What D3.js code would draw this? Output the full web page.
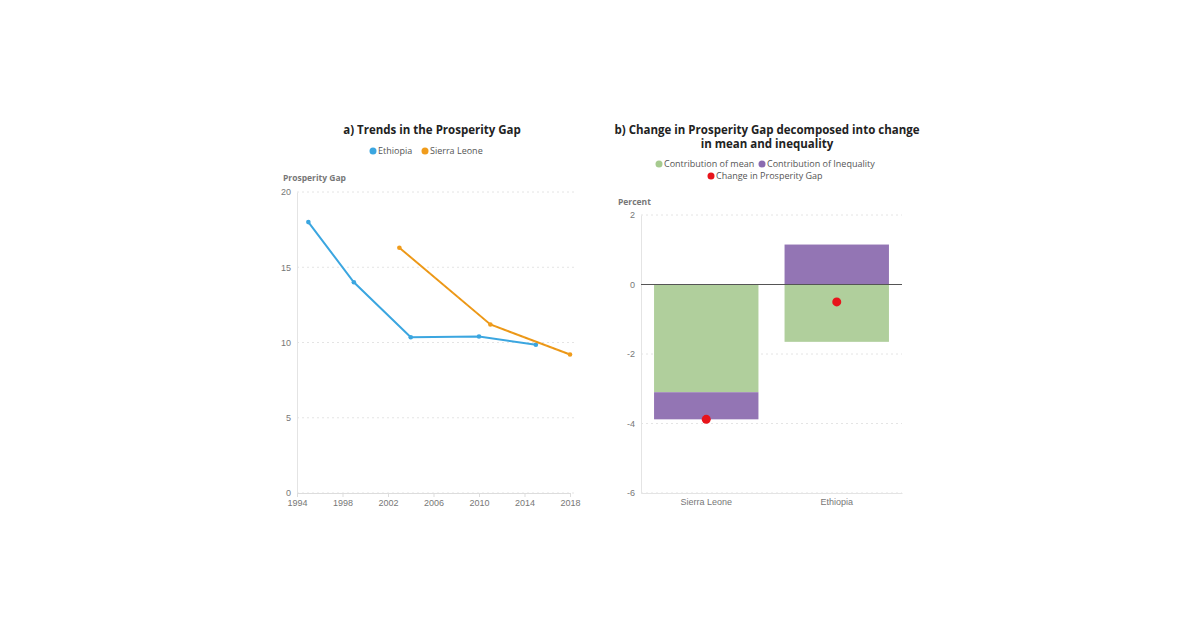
<!DOCTYPE html>
<html><head><meta charset="utf-8">
<script src="https://cdn.jsdelivr.net/npm/d3@7"></script>
<style>
body{margin:0;background:#fff;font-family:"Open Sans",sans-serif}
.tick text{fill:#777;font-size:9px}
</style></head>
<body><svg id="c" width="1200" height="630"></svg>
<script>
// left panel data
var ethYears = [1995, 1999, 2004, 2010, 2015],
	ethGap = [18.0, 14.0, 10.35, 10.4, 9.85],
	sleYears = [2003, 2011, 2018],
	sleGap = [16.3, 11.2, 9.2],
	yearTicks = [1994, 1998, 2002, 2006, 2010, 2014, 2018];

// right panel data
var countries = ['Sierra Leone', 'Ethiopia'],
	meanContrib = [-3.1, -1.65],
	ineqContrib = [-0.78, 1.15],
	gapChange = [-3.88, -0.5];

var svg = d3.select('#c');
var grey = '#777';

function title(x, y, lines) {
	lines.forEach(function(t, i) {
		svg.append('text').attr('x', x).attr('y', y + i * 14).attr('text-anchor', 'middle')
			.attr('font-size', 11.5).attr('font-weight', 'bold').attr('fill', '#222').text(t);
	});
}
function legItem(x, y, col, txt) {
	svg.append('circle').attr('cx', x).attr('cy', y - 3).attr('r', 3.5).attr('fill', col);
	svg.append('text').attr('x', x + 5).attr('y', y).attr('font-size', 9).attr('fill', '#555').text(txt);
}
function gridAxis(g, y, ticks, left, right) {
	g.append('g').attr('transform', 'translate(' + left + ',0)')
		.call(d3.axisLeft(y).tickValues(ticks).tickFormat(function(d){return String(d);}).tickSize(0).tickPadding(6))
		.call(function(a){a.select('.domain').attr('stroke', '#e4e4e4');});
	g.selectAll('.grid').data(ticks).enter().append('line')
		.attr('x1', left).attr('x2', right).attr('y1', y).attr('y2', y)
		.attr('stroke', '#e4e4e4').attr('stroke-dasharray', '2,3');
}

// ---- left panel
title(432, 134, ['a) Trends in the Prosperity Gap']);
legItem(373, 154, '#3ba6e0', 'Ethiopia');
legItem(425, 154, '#f09c1c', 'Sierra Leone');
svg.append('text').attr('x', 283).attr('y', 181).attr('font-size', 8.5).attr('font-weight', 'bold').attr('fill', grey).text('Prosperity Gap');

var x1 = d3.scaleLinear().domain([1994, 2018]).range([297, 570]),
	y1 = d3.scaleLinear().domain([0, 20]).range([493, 192]);
var gl = svg.append('g');
gridAxis(gl, y1, [0, 5, 10, 15, 20], 297, 575);
gl.append('g').attr('transform', 'translate(0,493)')
	.call(d3.axisBottom(x1).tickValues(yearTicks).tickFormat(d3.format('d')).tickSize(4))
	.call(function(a){a.selectAll('line,.domain').attr('stroke', '#ddd');});

function series(xs, ys, col, dash) {
	var pts = xs.map(function(d, i){return [x1(d), y1(ys[i])];});
	gl.append('path').attr('d', d3.line()(pts)).attr('fill', 'none').attr('stroke', col).attr('stroke-width', 2);
	if (dash)
		gl.append('path').attr('d', d3.line()(pts)).attr('fill', 'none').attr('stroke', '#d88a10')
			.attr('stroke-width', 1).attr('stroke-dasharray', '3,3').attr('opacity', 0.6);
	gl.selectAll(null).data(pts).enter().append('circle')
		.attr('cx', function(d){return d[0];}).attr('cy', function(d){return d[1];}).attr('r', 2.3).attr('fill', col);
}
series(ethYears, ethGap, '#3ba6e0');
series(sleYears, sleGap, '#f09c1c', true);

// ---- right panel
title(767, 134, ['b) Change in Prosperity Gap decomposed into change', 'in mean and inequality']);
legItem(659, 167, '#a6ca8f', 'Contribution of mean');
legItem(762, 167, '#8a6bb0', 'Contribution of Inequality');
legItem(711, 179, '#e8141b', 'Change in Prosperity Gap');
svg.append('text').attr('x', 618).attr('y', 205).attr('font-size', 8.5).attr('font-weight', 'bold').attr('fill', grey).text('Percent');

var x2 = d3.scaleBand().domain(countries).range([641, 902]).paddingInner(0.2).paddingOuter(0.1),
	y2 = d3.scaleLinear().domain([-6, 2]).range([493, 215]);
var gr = svg.append('g');
gridAxis(gr, y2, [-6, -4, -2, 0, 2], 641, 902);
gr.append('g').attr('transform', 'translate(0,493)')
	.call(d3.axisBottom(x2).tickSize(0).tickPadding(6))
	.call(function(a){a.select('.domain').attr('stroke', '#e4e4e4');});

countries.forEach(function(c, i) {
	var m = meanContrib[i], q = ineqContrib[i];
	var qBase = q < 0 ? m : 0;
	gr.append('rect').attr('x', x2(c)).attr('width', x2.bandwidth())
		.attr('y', y2(Math.max(0, m))).attr('height', Math.abs(y2(m) - y2(0))).attr('fill', '#b0cf9c');
	gr.append('rect').attr('x', x2(c)).attr('width', x2.bandwidth())
		.attr('y', y2(Math.max(qBase, qBase + q))).attr('height', Math.abs(y2(q) - y2(0))).attr('fill', '#9375b4');
});
gr.append('line').attr('x1', 641).attr('x2', 902).attr('y1', y2(0)).attr('y2', y2(0)).attr('stroke', '#555').attr('stroke-width', 1.2);
gr.selectAll(null).data(countries).enter().append('circle')
	.attr('cx', function(d){return x2(d) + x2.bandwidth() / 2;})
	.attr('cy', function(d, i){return y2(gapChange[i]);})
	.attr('r', 4.5).attr('fill', '#e8141b');
</script></body></html>
